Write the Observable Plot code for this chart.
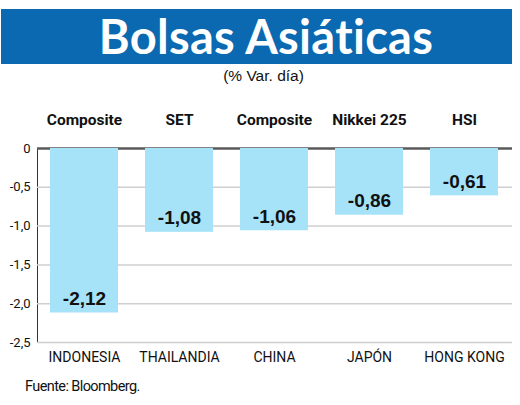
<!DOCTYPE html>
<html>
<head>
<meta charset="utf-8">
<script src="https://cdn.jsdelivr.net/npm/d3@7"></script>
<script src="https://cdn.jsdelivr.net/npm/@observablehq/plot@0.6"></script>
<style>
  html, body { margin: 0; padding: 0; background: #fff; }
  #wrap { position: relative; width: 520px; height: 405px; overflow: hidden; background: #fff; }
  #banner { position: absolute; left: 1px; top: 9px; width: 511px; height: 55px; background: #0b69b1; }
  #title { position: absolute; left: 0; top: 9px; width: 532px; height: 55px; line-height: 55px; text-align: center;
           color: #fff; font-family: Lato, sans-serif; font-weight: 700; font-size: 47px; letter-spacing: 0.3px; }
  #subtitle { position: absolute; left: 0; top: 67px; width: 527px; text-align: center;
              font-family: "Liberation Sans", Arial, sans-serif; font-size: 15.5px; color: #111; }
  #chart { position: absolute; left: 0; top: 100px; }
  #footer { position: absolute; left: 25px; top: 378px; font-family: Roboto, sans-serif;
            font-size: 14.5px; color: #111; letter-spacing: -0.6px; }
</style>
</head>
<body>
<div id="wrap">
  <div id="banner"></div>
  <div id="title">Bolsas Asiáticas</div>
  <div id="subtitle">(% Var. día)</div>
  <div id="chart"></div>
  <div id="footer">Fuente: Bloomberg.</div>
</div>
<script>
const countries = ["INDONESIA", "THAILANDIA", "CHINA", "JAPÓN", "HONG KONG"];
const indices = ["Composite", "SET", "Composite", "Nikkei 225", "HSI"];
const values = [-2.12, -1.08, -1.06, -0.86, -0.61];
const yTicks = [0, -0.5, -1, -1.5, -2, -2.5];

const data = countries.map((c, i) => ({country: c, index: indices[i], value: values[i]}));
const fmt = v => v === 0 ? "0" : d3.format(".1f")(v).replace(".", ",").replace("−", "-");
const fmt2 = v => d3.format(".2f")(v).replace(".", ",").replace("−", "-");

const chart = Plot.plot({
  width: 520,
  height: 270,
  marginTop: 48,
  marginBottom: 28,
  marginLeft: 37,
  marginRight: 8,
  style: {background: "#fff", color: "#333", overflow: "visible"},
  x: {domain: countries, paddingInner: 0.28, paddingOuter: 0.14},
  y: {domain: [-2.5, 0], ticks: yTicks, tickFormat: () => "", tickSize: 0, tickPadding: 7, line: true, label: null},
  marks: [
    Plot.ruleY(yTicks.filter(d => d !== 0), {stroke: "#cfcfcf", strokeWidth: 1.5}),
    Plot.ruleY([0], {stroke: "#5a5a5a", strokeWidth: 2.5}),
    Plot.barY(data, {x: "country", y: "value", fill: "#a6e2f8"}),
    Plot.text(yTicks, {y: d => d, text: d => fmt(d), frameAnchor: "left", textAnchor: "end", dx: -7,
      fontFamily: "Roboto, sans-serif", fontSize: 13, fill: "#111"}),
    Plot.text(data, {x: "country", y: "value", text: d => fmt2(d.value), dy: -14,
      fontFamily: "Liberation Sans, Arial, sans-serif", fontWeight: 700, fontSize: 19, fill: "#111"}),
    Plot.axisX({anchor: "top", tickSize: 0, tickPadding: 24, label: null,
      tickFormat: d => indices[countries.indexOf(d)],
      fontFamily: "Roboto, sans-serif", fontWeight: 700, fontSize: 15.5, fill: "#111"}),
    Plot.axisX({anchor: "bottom", tickSize: 0, tickPadding: 10, label: null,
      fontFamily: "Roboto, sans-serif", fontSize: 14, fill: "#111"})
  ]
});
document.getElementById("chart").appendChild(chart);
</script>
</body>
</html>
